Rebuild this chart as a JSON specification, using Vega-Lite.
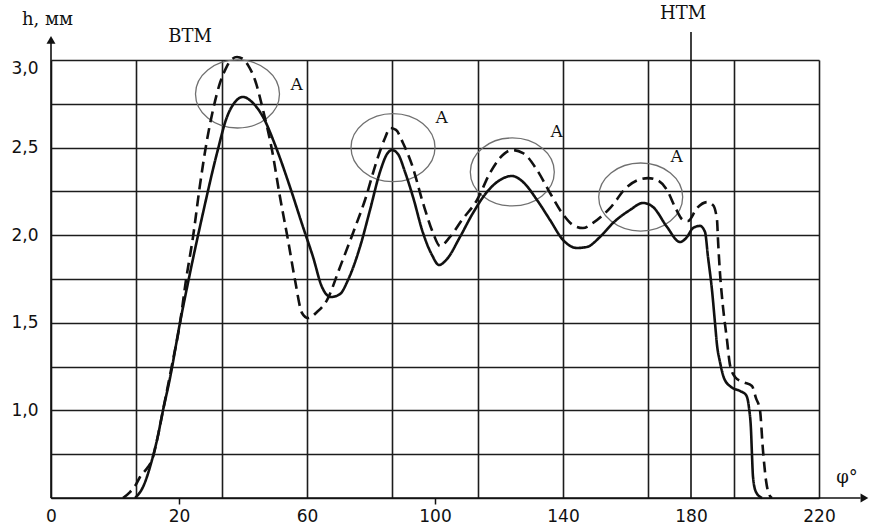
{
  "$schema": "https://vega.github.io/schema/vega-lite/v6.json",
  "width": 768,
  "height": 438,
  "autosize": {"type": "none"},
  "padding": {"left": 51, "top": 60, "right": 55, "bottom": 33},
  "background": "white",
  "config": {"view": {"stroke": null}},
  "datasets": {
    "curves": [
      {"phi": 6.25, "h": 0.5, "s": "solid"},
      {"phi": 8.75, "h": 0.563, "s": "solid"},
      {"phi": 11.56, "h": 0.717, "s": "solid"},
      {"phi": 13.13, "h": 0.831, "s": "solid"},
      {"phi": 15, "h": 1.0, "s": "solid"},
      {"phi": 17.19, "h": 1.185, "s": "solid"},
      {"phi": 20.31, "h": 1.5, "s": "solid"},
      {"phi": 23.44, "h": 1.784, "s": "solid"},
      {"phi": 27.5, "h": 2.127, "s": "solid"},
      {"phi": 31.88, "h": 2.469, "s": "solid"},
      {"phi": 35, "h": 2.675, "s": "solid"},
      {"phi": 37.5, "h": 2.76, "s": "solid"},
      {"phi": 40, "h": 2.789, "s": "solid"},
      {"phi": 42.81, "h": 2.76, "s": "solid"},
      {"phi": 46.25, "h": 2.675, "s": "solid"},
      {"phi": 50.63, "h": 2.486, "s": "solid"},
      {"phi": 54.69, "h": 2.275, "s": "solid"},
      {"phi": 58.75, "h": 2.047, "s": "solid"},
      {"phi": 61.88, "h": 1.876, "s": "solid"},
      {"phi": 64.69, "h": 1.704, "s": "solid"},
      {"phi": 67.5, "h": 1.647, "s": "solid"},
      {"phi": 70.31, "h": 1.664, "s": "solid"},
      {"phi": 72.81, "h": 1.744, "s": "solid"},
      {"phi": 76.56, "h": 1.933, "s": "solid"},
      {"phi": 79.69, "h": 2.144, "s": "solid"},
      {"phi": 82.81, "h": 2.361, "s": "solid"},
      {"phi": 85, "h": 2.463, "s": "solid"},
      {"phi": 86.56, "h": 2.486, "s": "solid"},
      {"phi": 88.44, "h": 2.463, "s": "solid"},
      {"phi": 90.63, "h": 2.361, "s": "solid"},
      {"phi": 93.13, "h": 2.218, "s": "solid"},
      {"phi": 96.25, "h": 2.013, "s": "solid"},
      {"phi": 99.06, "h": 1.887, "s": "solid"},
      {"phi": 101.25, "h": 1.83, "s": "solid"},
      {"phi": 103.75, "h": 1.864, "s": "solid"},
      {"phi": 107.81, "h": 1.99, "s": "solid"},
      {"phi": 111.88, "h": 2.127, "s": "solid"},
      {"phi": 116.25, "h": 2.247, "s": "solid"},
      {"phi": 120.31, "h": 2.315, "s": "solid"},
      {"phi": 124.06, "h": 2.338, "s": "solid"},
      {"phi": 127.5, "h": 2.304, "s": "solid"},
      {"phi": 131.88, "h": 2.201, "s": "solid"},
      {"phi": 135.94, "h": 2.087, "s": "solid"},
      {"phi": 140, "h": 1.973, "s": "solid"},
      {"phi": 144.38, "h": 1.927, "s": "solid"},
      {"phi": 147.5, "h": 1.933, "s": "solid"},
      {"phi": 151.56, "h": 1.99, "s": "solid"},
      {"phi": 155.63, "h": 2.07, "s": "solid"},
      {"phi": 160.94, "h": 2.144, "s": "solid"},
      {"phi": 165, "h": 2.184, "s": "solid"},
      {"phi": 168.13, "h": 2.161, "s": "solid"},
      {"phi": 172.5, "h": 2.047, "s": "solid"},
      {"phi": 176.56, "h": 1.961, "s": "solid"},
      {"phi": 178.75, "h": 1.99, "s": "solid"},
      {"phi": 180.63, "h": 2.041, "s": "solid"},
      {"phi": 182.81, "h": 2.053, "s": "solid"},
      {"phi": 184.38, "h": 2.018, "s": "solid"},
      {"phi": 185.31, "h": 1.876, "s": "solid"},
      {"phi": 186.56, "h": 1.687, "s": "solid"},
      {"phi": 187.5, "h": 1.499, "s": "solid"},
      {"phi": 188.13, "h": 1.373, "s": "solid"},
      {"phi": 189.06, "h": 1.276, "s": "solid"},
      {"phi": 190.31, "h": 1.185, "s": "solid"},
      {"phi": 192.5, "h": 1.134, "s": "solid"},
      {"phi": 195.31, "h": 1.111, "s": "solid"},
      {"phi": 197.19, "h": 1.088, "s": "solid"},
      {"phi": 198.13, "h": 1.014, "s": "solid"},
      {"phi": 198.75, "h": 0.888, "s": "solid"},
      {"phi": 199.06, "h": 0.745, "s": "solid"},
      {"phi": 199.38, "h": 0.62, "s": "solid"},
      {"phi": 200.31, "h": 0.534, "s": "solid"},
      {"phi": 202.19, "h": 0.5, "s": "solid"},
      {"phi": 2.5, "h": 0.5, "s": "dashed"},
      {"phi": 4.69, "h": 0.534, "s": "dashed"},
      {"phi": 6.25, "h": 0.568, "s": "dashed"},
      {"phi": 7.81, "h": 0.62, "s": "dashed"},
      {"phi": 10.31, "h": 0.677, "s": "dashed"},
      {"phi": 11.56, "h": 0.717, "s": "dashed"},
      {"phi": 13.13, "h": 0.831, "s": "dashed"},
      {"phi": 15, "h": 1.0, "s": "dashed"},
      {"phi": 17.81, "h": 1.259, "s": "dashed"},
      {"phi": 20.31, "h": 1.499, "s": "dashed"},
      {"phi": 22.19, "h": 1.744, "s": "dashed"},
      {"phi": 24.38, "h": 1.99, "s": "dashed"},
      {"phi": 26.56, "h": 2.287, "s": "dashed"},
      {"phi": 28.75, "h": 2.543, "s": "dashed"},
      {"phi": 30.63, "h": 2.715, "s": "dashed"},
      {"phi": 32.81, "h": 2.869, "s": "dashed"},
      {"phi": 34.69, "h": 2.954, "s": "dashed"},
      {"phi": 36.25, "h": 3.0, "s": "dashed"},
      {"phi": 38.13, "h": 3.017, "s": "dashed"},
      {"phi": 40, "h": 3.006, "s": "dashed"},
      {"phi": 41.56, "h": 2.971, "s": "dashed"},
      {"phi": 43.75, "h": 2.886, "s": "dashed"},
      {"phi": 46.25, "h": 2.715, "s": "dashed"},
      {"phi": 49.06, "h": 2.486, "s": "dashed"},
      {"phi": 51.56, "h": 2.218, "s": "dashed"},
      {"phi": 54.06, "h": 1.973, "s": "dashed"},
      {"phi": 56.25, "h": 1.744, "s": "dashed"},
      {"phi": 58.44, "h": 1.556, "s": "dashed"},
      {"phi": 60.31, "h": 1.527, "s": "dashed"},
      {"phi": 63.13, "h": 1.562, "s": "dashed"},
      {"phi": 66.25, "h": 1.63, "s": "dashed"},
      {"phi": 70.31, "h": 1.818, "s": "dashed"},
      {"phi": 74.38, "h": 2.013, "s": "dashed"},
      {"phi": 78.13, "h": 2.201, "s": "dashed"},
      {"phi": 81.88, "h": 2.429, "s": "dashed"},
      {"phi": 84.38, "h": 2.555, "s": "dashed"},
      {"phi": 85.94, "h": 2.612, "s": "dashed"},
      {"phi": 87.81, "h": 2.601, "s": "dashed"},
      {"phi": 90, "h": 2.526, "s": "dashed"},
      {"phi": 92.81, "h": 2.401, "s": "dashed"},
      {"phi": 96.25, "h": 2.184, "s": "dashed"},
      {"phi": 99.38, "h": 2.013, "s": "dashed"},
      {"phi": 101.56, "h": 1.938, "s": "dashed"},
      {"phi": 104.69, "h": 1.99, "s": "dashed"},
      {"phi": 108.44, "h": 2.087, "s": "dashed"},
      {"phi": 113.13, "h": 2.201, "s": "dashed"},
      {"phi": 117.19, "h": 2.355, "s": "dashed"},
      {"phi": 120.31, "h": 2.441, "s": "dashed"},
      {"phi": 124.06, "h": 2.486, "s": "dashed"},
      {"phi": 127.5, "h": 2.469, "s": "dashed"},
      {"phi": 131.88, "h": 2.372, "s": "dashed"},
      {"phi": 135.94, "h": 2.241, "s": "dashed"},
      {"phi": 139.69, "h": 2.127, "s": "dashed"},
      {"phi": 143.13, "h": 2.058, "s": "dashed"},
      {"phi": 146.25, "h": 2.041, "s": "dashed"},
      {"phi": 149.38, "h": 2.07, "s": "dashed"},
      {"phi": 154.69, "h": 2.155, "s": "dashed"},
      {"phi": 160, "h": 2.275, "s": "dashed"},
      {"phi": 163.44, "h": 2.315, "s": "dashed"},
      {"phi": 166.56, "h": 2.326, "s": "dashed"},
      {"phi": 169.38, "h": 2.315, "s": "dashed"},
      {"phi": 172.5, "h": 2.258, "s": "dashed"},
      {"phi": 175, "h": 2.161, "s": "dashed"},
      {"phi": 177.5, "h": 2.087, "s": "dashed"},
      {"phi": 179.06, "h": 2.081, "s": "dashed"},
      {"phi": 181.88, "h": 2.155, "s": "dashed"},
      {"phi": 185, "h": 2.189, "s": "dashed"},
      {"phi": 186.88, "h": 2.172, "s": "dashed"},
      {"phi": 188.13, "h": 2.087, "s": "dashed"},
      {"phi": 188.44, "h": 1.973, "s": "dashed"},
      {"phi": 189.06, "h": 1.784, "s": "dashed"},
      {"phi": 190, "h": 1.59, "s": "dashed"},
      {"phi": 191.25, "h": 1.402, "s": "dashed"},
      {"phi": 192.19, "h": 1.259, "s": "dashed"},
      {"phi": 193.75, "h": 1.191, "s": "dashed"},
      {"phi": 196.25, "h": 1.162, "s": "dashed"},
      {"phi": 199.06, "h": 1.139, "s": "dashed"},
      {"phi": 200.31, "h": 1.07, "s": "dashed"},
      {"phi": 201.56, "h": 1.0, "s": "dashed"},
      {"phi": 202.5, "h": 0.77, "s": "dashed"},
      {"phi": 203.44, "h": 0.6, "s": "dashed"},
      {"phi": 204.4, "h": 0.52, "s": "dashed"},
      {"phi": 205.31, "h": 0.5, "s": "dashed"}
    ],
    "ellipses": [
      {"phi": 38.28, "h": 2.806},
      {"phi": 86.88, "h": 2.5},
      {"phi": 124.16, "h": 2.361},
      {"phi": 164.28, "h": 2.218}
    ],
    "marksA": [
      {"phi": 56.78, "h": 2.829, "t": "А"},
      {"phi": 102.09, "h": 2.64, "t": "А"},
      {"phi": 138.03, "h": 2.56, "t": "А"},
      {"phi": 175.53, "h": 2.418, "t": "А"}
    ],
    "labels": [
      {"phi": -21.09, "h": 3.2, "t": "h, мм"},
      {"phi": 23.44, "h": 3.103, "t": "ВТМ"},
      {"phi": 177.5, "h": 3.234, "t": "НТМ"},
      {"phi": 228.75, "h": 0.586, "t": "φ°"}
    ]
  },
  "layer": [
    {
      "data": {"name": "ellipses"},
      "mark": {
        "type": "point",
        "shape": "M-1,0C-1,-0.447,-0.552,-0.81,0,-0.81C0.552,-0.81,1,-0.447,1,0C1,0.447,0.552,0.81,0,0.81C-0.552,0.81,-1,0.447,-1,0Z",
        "size": 7056,
        "filled": false,
        "color": "#707070",
        "strokeWidth": 1.3,
        "opacity": 1
      },
      "encoding": {
        "x": {
          "field": "phi", "type": "quantitative",
          "scale": {"domain": [-20, 220], "nice": false, "zero": false},
          "axis": {"orient": "bottom", "values": [-20, 6.6667, 33.3333, 60, 86.6667, 113.3333, 140, 166.6667, 193.3333, 220],
                   "grid": true, "labels": false, "ticks": false, "domain": false, "title": null,
                   "gridColor": "#1c1c1c", "gridWidth": 1.6, "gridOpacity": 1}
        },
        "y": {
          "field": "h", "type": "quantitative",
          "scale": {"domain": [0.5, 3.0], "nice": false, "zero": false},
          "axis": {"orient": "left", "values": [0.5, 0.75, 1, 1.25, 1.5, 1.75, 2, 2.25, 2.5, 2.75, 3],
                   "grid": true, "labels": false, "ticks": false, "domain": false, "title": null,
                   "gridColor": "#1c1c1c", "gridWidth": 1.6, "gridOpacity": 1}
        }
      }
    },
    {
      "data": {"name": "curves"},
      "mark": {"type": "line", "interpolate": "monotone", "strokeWidth": 2.6, "color": "#111111"},
      "encoding": {
        "x": {
          "field": "phi", "type": "quantitative",
          "axis": {"orient": "bottom", "values": [-20, 20, 60, 100, 140, 180, 220],
                   "labelExpr": "datum.value == -20 ? '0' : datum.label",
                   "grid": false, "ticks": false, "domain": false, "title": null,
                   "labelFlush": false, "labelPadding": 10, "labelFont": "DejaVu Sans",
                   "labelFontSize": 17, "labelColor": "#111111",
                   "encode": {"labels": {"update": {"dx": {"signal": "datum.value == 100 || datum.value == 140 || datum.value == 220 ? -9 : 0"}}}}}
        },
        "y": {
          "field": "h", "type": "quantitative",
          "axis": {"orient": "left", "values": [1, 1.5, 2, 2.5, 3],
                   "labelExpr": "replace(format(datum.value, '.1f'), '.', ',')",
                   "grid": false, "ticks": false, "domain": false, "title": null,
                   "labelFlush": true, "labelPadding": 13, "labelFont": "DejaVu Sans",
                   "labelFontSize": 17, "labelColor": "#111111"}
        },
        "strokeDash": {
          "field": "s", "type": "nominal",
          "scale": {"domain": ["solid", "dashed"], "range": [[1, 0], [11, 6]]},
          "legend": null
        }
      }
    },
    {
      "data": {"values": [{}]},
      "mark": {"type": "rule", "color": "#111111", "strokeWidth": 1.6},
      "encoding": {
        "x": {"datum": -20, "type": "quantitative",
              "axis": {"orient": "bottom", "values": [20, 100], "ticks": true, "tickSize": 6, "tickWidth": 1.5,
                       "tickColor": "#111111", "labels": false, "grid": false, "domain": false, "title": null}},
        "x2": {"datum": 233},
        "y": {"datum": 0.5, "type": "quantitative", "axis": null}
      }
    },
    {
      "data": {"values": [{}]},
      "mark": {"type": "rule", "color": "#111111", "strokeWidth": 1.6},
      "encoding": {
        "x": {"datum": -20, "type": "quantitative", "axis": null},
        "y": {"datum": 0.5, "type": "quantitative", "axis": null},
        "y2": {"datum": 3.1}
      }
    },
    {
      "data": {"values": [{}]},
      "mark": {"type": "rule", "color": "#111111", "strokeWidth": 1.6},
      "encoding": {
        "x": {"datum": 180, "type": "quantitative", "axis": null},
        "y": {"datum": 0.5, "type": "quantitative", "axis": null},
        "y2": {"datum": 3.16}
      }
    },
    {
      "data": {"values": [{}]},
      "mark": {"type": "point", "shape": "triangle-up", "size": 80, "filled": true, "color": "#111111", "opacity": 1},
      "encoding": {
        "x": {"datum": -20, "type": "quantitative", "axis": null},
        "y": {"datum": 3.115, "type": "quantitative", "axis": null}
      }
    },
    {
      "data": {"values": [{}]},
      "mark": {"type": "point", "shape": "triangle-right", "size": 80, "filled": true, "color": "#111111", "opacity": 1},
      "encoding": {
        "x": {"datum": 234.2, "type": "quantitative", "axis": null},
        "y": {"datum": 0.5, "type": "quantitative", "axis": null}
      }
    },
    {
      "data": {"name": "labels"},
      "mark": {"type": "text", "font": "DejaVu Serif", "fontSize": 18, "color": "#111111", "align": "center", "baseline": "alphabetic"},
      "encoding": {
        "x": {"field": "phi", "type": "quantitative", "axis": null},
        "y": {"field": "h", "type": "quantitative", "axis": null},
        "text": {"field": "t"}
      }
    },
    {
      "data": {"name": "marksA"},
      "mark": {"type": "text", "font": "DejaVu Serif", "fontSize": 17, "color": "#111111", "align": "center", "baseline": "alphabetic"},
      "encoding": {
        "x": {"field": "phi", "type": "quantitative", "axis": null},
        "y": {"field": "h", "type": "quantitative", "axis": null},
        "text": {"field": "t"}
      }
    }
  ],
  "resolve": {"axis": {"x": "independent", "y": "independent"}}
}
